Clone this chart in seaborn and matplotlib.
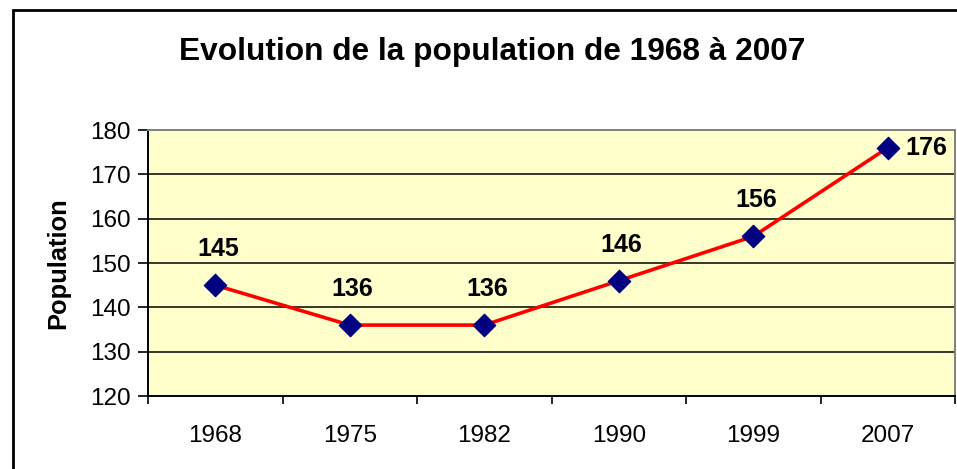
import matplotlib
matplotlib.use("Agg")
import matplotlib.pyplot as plt
import seaborn as sns
import pandas as pd
from matplotlib.patches import Rectangle

years = ["1968", "1975", "1982", "1990", "1999", "2007"]
population = [145, 136, 136, 146, 156, 176]
yticks = [120, 130, 140, 150, 160, 170, 180]

sns.set_theme(style="white")
plt.rcParams['font.family'] = ['Liberation Sans', 'DejaVu Sans']
plt.rcParams['text.color'] = 'black'
plt.rcParams['axes.labelcolor'] = 'black'
plt.rcParams['xtick.color'] = 'black'
plt.rcParams['ytick.color'] = 'black'

df = pd.DataFrame({"idx": range(len(years)), "year": years, "pop": population})

fig = plt.figure(figsize=(9.57, 4.69), dpi=100)
fig.patch.set_facecolor("white")
ax = fig.add_axes([148/957, 1-396/469, (955-148)/957, (396-130)/469])
ax.set_facecolor("#FFFFCC")

# figure border (chart area)
fig.patches.append(Rectangle((13/957, -0.1), 1.2, 1-10/469+0.1, transform=fig.transFigure,
                             fill=False, edgecolor="black", linewidth=2, zorder=0))

sns.lineplot(data=df, x="idx", y="pop", ax=ax, color="#FF0000", linewidth=2.6, zorder=3)
sns.scatterplot(data=df, x="idx", y="pop", ax=ax, marker="D", s=130, color="#000080",
                edgecolor="#000080", zorder=4)

for i, v in enumerate(population):
    if i == len(population) - 1:
        ax.annotate(str(v), (i, v), xytext=(13, 0), textcoords="offset points",
                    ha="left", va="center", fontsize=18, fontweight="bold", color="black")
    else:
        ax.annotate(str(v), (i, v), xytext=(2, 26), textcoords="offset points",
                    ha="center", va="center", fontsize=18, fontweight="bold", color="black")

ax.set_xlim(-0.5, len(years) - 0.5)
ax.set_ylim(120, 180)
ax.set_yticks(yticks)
ax.set_yticklabels([str(t) for t in yticks], fontsize=17.5, color="black")
ax.set_xticks(range(len(years)))
ax.set_xticklabels(years, fontsize=17.5, color="black")
ax.set_xticks([i - 0.5 for i in range(len(years) + 1)], minor=True)
ax.tick_params(axis="x", which="major", length=0, pad=21)
ax.tick_params(axis="x", which="minor", length=6, width=1.2, color="black", direction="out", bottom=True)
ax.tick_params(axis="y", length=7.5, width=1.2, color="black", direction="out", left=True, pad=5)
ax.grid(axis="y", color="black", linewidth=1.1)
ax.set_axisbelow(True)
ax.set_xlabel("")
ax.set_ylabel("Population", fontsize=18.4, fontweight="bold", labelpad=14, color="black")

for s in ["left", "bottom"]:
    ax.spines[s].set_color("black")
    ax.spines[s].set_linewidth(1.4)
for s in ["top", "right"]:
    ax.spines[s].set_color("#808080")
    ax.spines[s].set_linewidth(1.4)

fig.text(492/957, 1-52/469, "Evolution de la population de 1968 à 2007", ha="center", va="center",
         fontsize=22.8, fontweight="bold", color="black")

fig.savefig("out.png", dpi=100)
